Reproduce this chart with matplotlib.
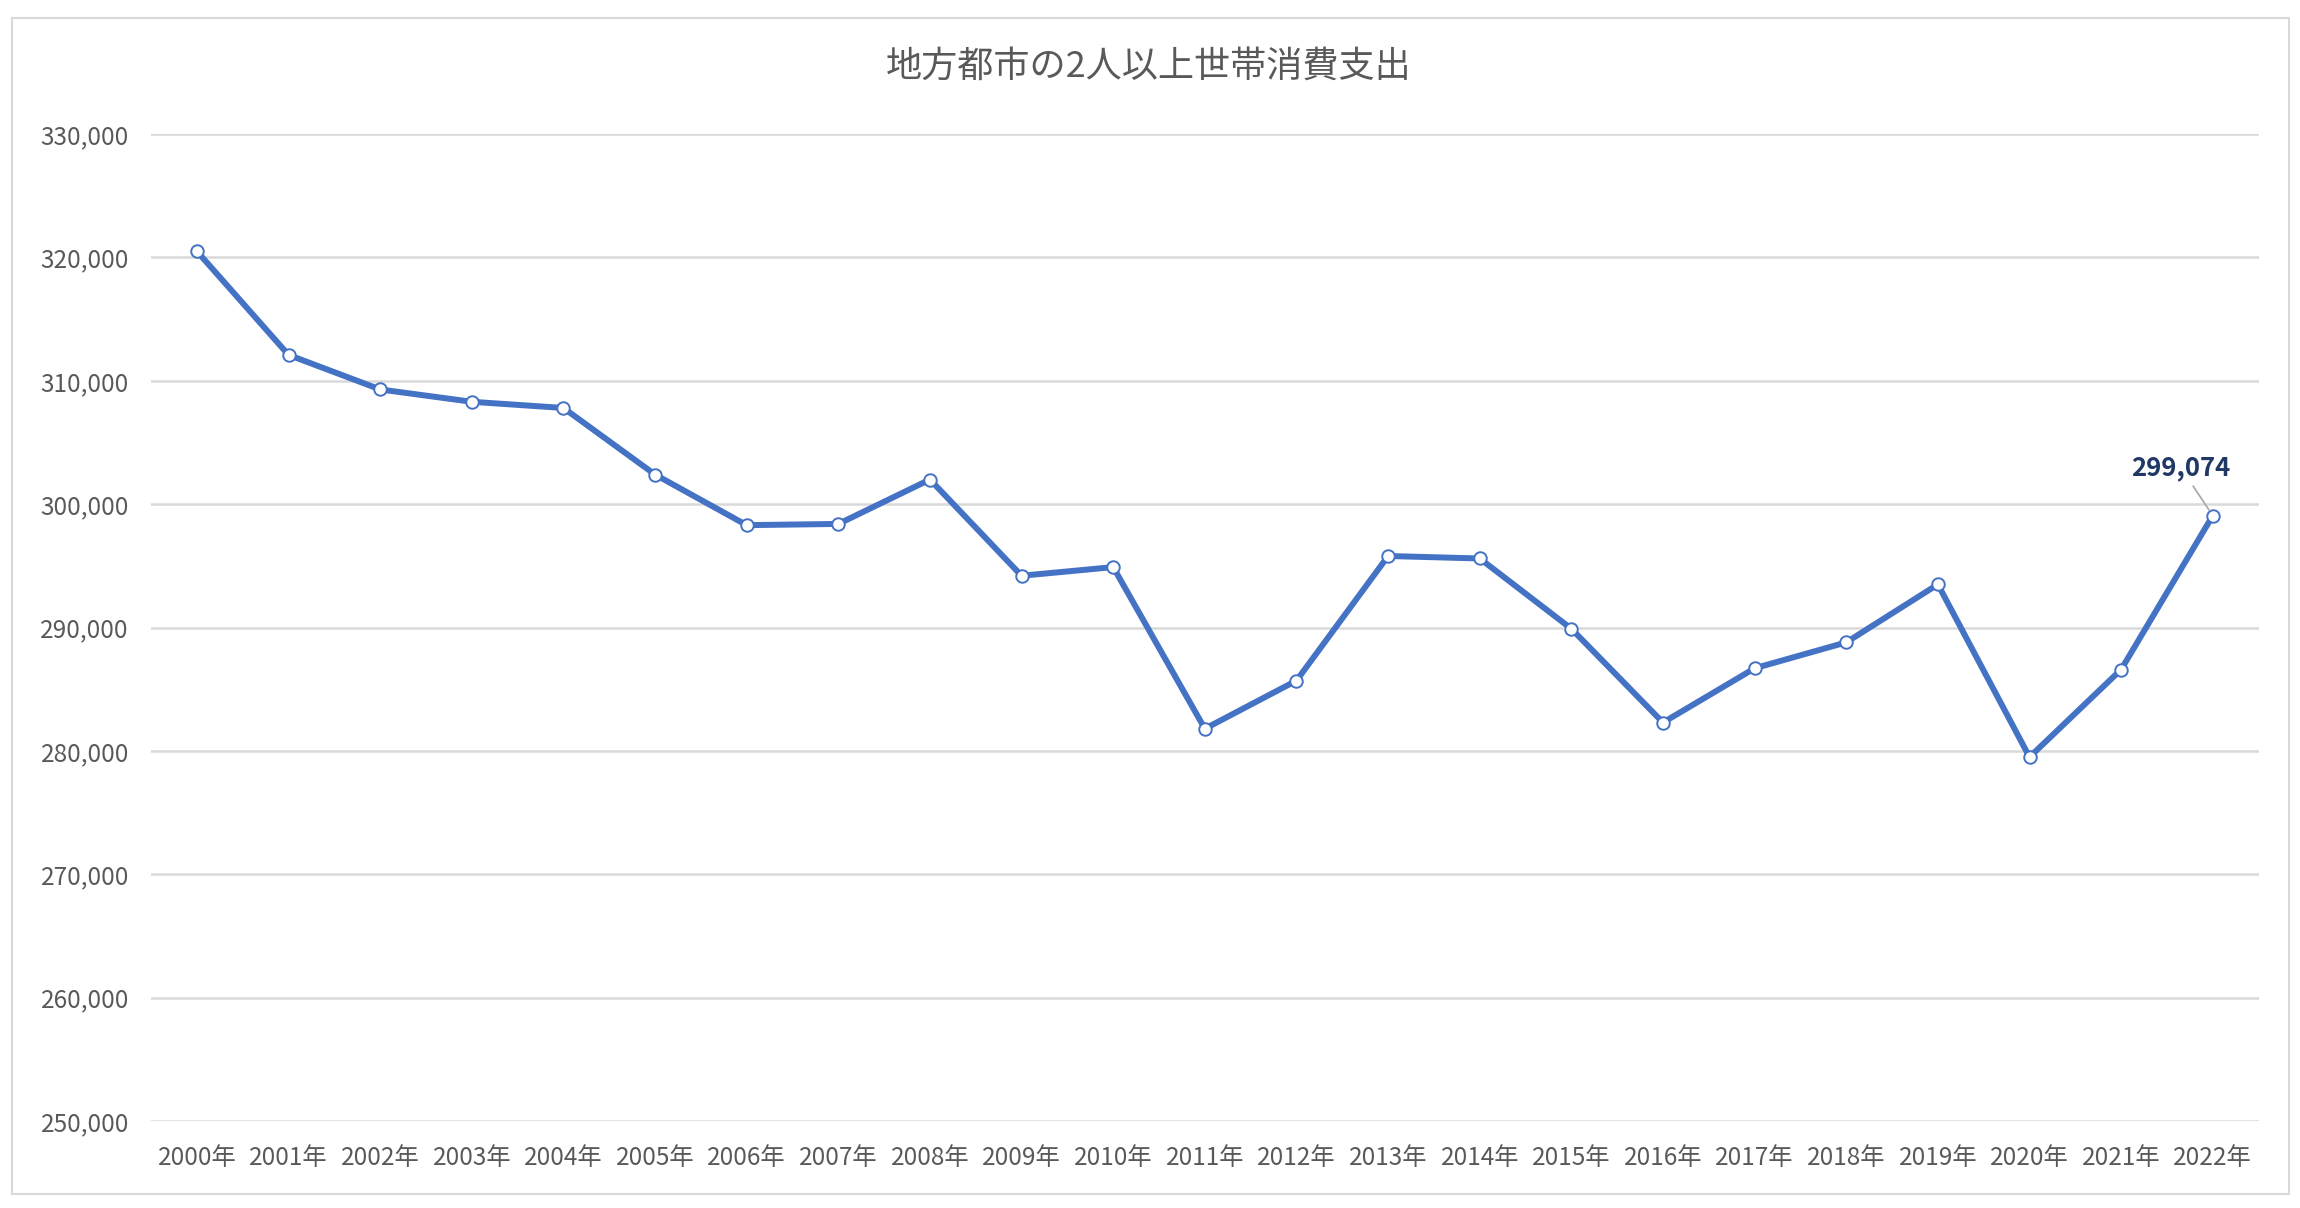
import matplotlib
matplotlib.use("Agg")
import matplotlib.pyplot as plt
import matplotlib.patches as patches
from matplotlib.ticker import FuncFormatter

plt.rcParams['font.family'] = ['Noto Sans CJK JP', 'DejaVu Sans']

# data
years = [str(y) + "年" for y in range(2000, 2023)]
spending = [320500, 312100, 309300, 308300, 307800, 302400, 298300, 298400,
            302000, 294200, 294900, 281800, 285700, 295800, 295600, 289900,
            282300, 286700, 288800, 293500, 279500, 286600, 299074]
title = "地方都市の2人以上世帯消費支出"
y_ticks = list(range(250000, 330001, 10000))

blue = "#4472C4"
grey_txt = "#595959"
grid_col = "#D9D9D9"

fig = plt.figure(figsize=(23, 12.08), dpi=100)
fig.patch.set_facecolor("white")

# outer chart border
border = patches.Rectangle((0.005, 0.012), 0.99, 0.973, transform=fig.transFigure,
                           fill=False, edgecolor=grid_col, linewidth=1.5)
fig.patches.append(border)

ax = fig.add_axes([0.0657, 0.072, 0.9163, 0.817])
x = list(range(len(years)))
ax.plot(x, spending, color=blue, linewidth=4.3, marker="o", markersize=9,
        markerfacecolor="white", markeredgecolor=blue, markeredgewidth=1.4, zorder=3)

ax.set_xlim(-0.5, len(years) - 0.5)
ax.set_ylim(250000, 330000)
ax.set_yticks(y_ticks)
ax.yaxis.set_major_formatter(FuncFormatter(lambda v, p: f"{int(v):,}"))
ax.set_xticks(x)
ax.set_xticklabels(years)

ax.grid(axis="y", color=grid_col, linewidth=1.8, zorder=0)
ax.set_axisbelow(True)
for s in ax.spines.values():
    s.set_visible(False)
ax.tick_params(axis="both", length=0, colors=grey_txt, labelsize=17.5)
ax.tick_params(axis="y", pad=16)
ax.tick_params(axis="x", pad=17)

# data label for the last point
ax.annotate(f"{spending[-1]:,}", xy=(x[-1], spending[-1]),
            xytext=(x[-1] - 0.35, spending[-1] + 2800),
            ha="center", va="bottom", fontsize=18.5, fontweight="bold", color="#1F3864",
            arrowprops=dict(arrowstyle="-", color="#A6A6A6", linewidth=1.2,
                            shrinkA=2, shrinkB=5))

fig.text(0.4995, 0.944, title, ha="center", va="center", fontsize=26, color=grey_txt)

fig.savefig("out.png", dpi=100)
